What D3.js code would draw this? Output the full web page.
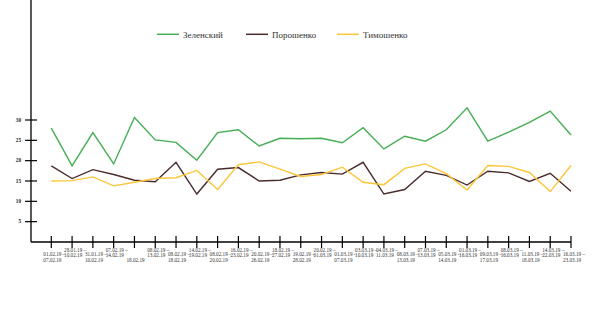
<!DOCTYPE html>
<html>
<head>
<meta charset="utf-8">
<script src="https://cdn.jsdelivr.net/npm/d3@7"></script>
<style>
  html, body { margin: 0; padding: 0; background: #fff; }
  svg { display: block; font-family: "Liberation Serif", "Times New Roman", serif; }
</style>
</head>
<body>
<svg id="chart" width="600" height="332"></svg>
<script>
// ---- data ----
const periodStart = ["01.02.19","28.01.19","31.01.19","07.02.19","","08.02.19","08.02.19","14.02.19","08.02.19","16.02.19","20.02.19","18.02.19","19.02.19","20.02.19","01.03.19","03.03.19","04.03.19","08.03.19","07.03.19","05.03.19","01.03.19","09.03.19","08.03.19","11.03.19","14.03.19","16.03.19"];
const periodEnd   = ["07.02.19","10.02.19","10.02.19","14.02.19","18.02.19","13.02.19","18.02.19","19.02.19","20.02.19","23.02.19","26.02.19","27.02.19","28.02.19","01.03.19","07.03.19","10.03.19","11.03.19","13.03.19","13.03.19","14.03.19","16.03.19","17.03.19","16.03.19","18.03.19","22.03.19","23.03.19"];
const seriesNames = ["Зеленский","Порошенко","Тимошенко"];
const zelensky   = [28.0,18.7,26.9,19.2,30.6,25.1,24.5,20.1,26.9,27.6,23.6,25.5,25.4,25.5,24.4,28.1,22.9,26.0,24.8,27.6,33.0,24.8,27.0,29.4,32.2,26.3];
const poroshenko = [18.7,15.6,17.8,16.6,15.2,14.8,19.6,11.8,17.9,18.3,15.0,15.2,16.5,17.1,16.7,19.6,11.8,12.9,17.4,16.4,14.0,17.4,17.0,14.9,16.9,12.5];
const tymoshenko = [15.0,15.1,16.0,13.8,14.7,15.6,15.8,17.6,12.9,19.0,19.7,17.9,16.1,16.6,18.4,14.7,14.1,18.1,19.2,16.8,12.8,18.8,18.6,17.1,12.4,18.8];
const yTicks = [5,10,15,20,25,30];

// ---- layout ----
const colors = ["#45ad53", "#4b2c2c", "#fcc63a"];
const series = [zelensky, poroshenko, tymoshenko];
const svg = d3.select("#chart");
const idx = d3.range(periodEnd.length);

const x = d3.scalePoint().domain(idx).range([51.3, 571]);
const y = d3.scaleLinear().domain([0, 30]).range([242, 120]);

// Y axis
const gy = svg.append("g").attr("transform", "translate(31,0)");
gy.append("line").attr("x1", 0).attr("x2", 0).attr("y1", 0).attr("y2", y(0))
  .attr("stroke", "#000").attr("stroke-width", 1.3);
gy.selectAll("line.t").data(yTicks).join("line").attr("class", "t")
  .attr("x1", -6).attr("x2", 6).attr("y1", d => y(d)).attr("y2", d => y(d))
  .attr("stroke", "#000").attr("stroke-width", 1.2);
gy.selectAll("text").data(yTicks).join("text")
  .attr("x", -10).attr("y", d => y(d)).attr("dy", "0.35em")
  .attr("text-anchor", "end").attr("font-size", 5.2).attr("font-weight", "bold")
  .attr("fill", "#222").text(d => d);

// X axis
const gx = svg.append("g");
gx.append("line").attr("x1", 31).attr("x2", x(idx[idx.length - 1]))
  .attr("y1", y(0)).attr("y2", y(0)).attr("stroke", "#000").attr("stroke-width", 1.3);
gx.selectAll("line.t").data(idx).join("line").attr("class", "t")
  .attr("x1", d => x(d)).attr("x2", d => x(d))
  .attr("y1", y(0) - 6).attr("y2", y(0) + 6)
  .attr("stroke", "#000").attr("stroke-width", 1.2);

// staggered labels
const lowRow = i => (i < 16 ? i % 2 === 0 : i % 2 === 1);
const lbl = gx.selectAll("g.lbl").data(idx).join("g").attr("class", "lbl")
  .attr("transform", i => `translate(${x(i) - 8},${lowRow(i) ? 261.5 : 257})`);
lbl.append("text").attr("y", -5.5).attr("font-size", 5.2).attr("fill", "#333")
  .text(i => periodStart[i] ? periodStart[i] + " –" : "");
lbl.append("text").attr("y", 0).attr("font-size", 5.2).attr("fill", "#333")
  .text(i => periodEnd[i]);

// Lines
const line = d3.line().x((d, i) => x(i)).y(d => y(d));
series.forEach((s, k) => {
  svg.append("path").datum(s).attr("d", line)
    .attr("fill", "none").attr("stroke", colors[k]).attr("stroke-width", 1.4)
    .attr("stroke-linejoin", "miter");
});

// Legend
const legendX = [157, 246, 337];
const lg = svg.append("g");
seriesNames.forEach((n, k) => {
  lg.append("line").attr("x1", legendX[k]).attr("x2", legendX[k] + 22)
    .attr("y1", 34.3).attr("y2", 34.3).attr("stroke", colors[k]).attr("stroke-width", 1.5);
  lg.append("text").attr("x", legendX[k] + 26).attr("y", 37.5)
    .attr("font-size", 9).attr("fill", "#333").text(n);
});
</script>
</body>
</html>
